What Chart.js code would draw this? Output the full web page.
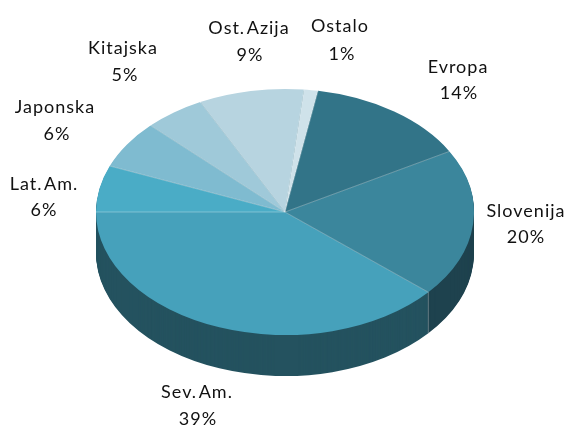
<!DOCTYPE html>
<html><head><meta charset="utf-8">
<style>html,body{margin:0;padding:0;background:#fff}#w{width:571px;height:426px;position:relative}</style>
<script src="https://cdn.jsdelivr.net/npm/chart.js@4"></script>
</head><body><div id="w"><canvas id="c"></canvas></div>
<script>
const categories = ['Lat. Am.','Japonska','Kitajska','Ost. Azija','Ostalo','Evropa','Slovenija','Sev. Am.'];
const values = [6.1,6.3,5.2,9.0,1.2,14.0,19.5,38.7];
const topColors = ['#4aacc6','#7fbbd0','#9fc9d9','#b7d4e0','#cfe2ea','#327488','#3b869c','#46a1bb'];
const sideColors = ['#2a6a7c','#2a6a7c','#2a6a7c','#2a6a7c','#2a6a7c','#1f4a57','#1e424e','#24525f'];
const nameAnchors = [[44,184],[55,107],[123,48],[249,28],[340,26],[458,67],[526,211],[197,392]];
const pctAnchors = [[44,210],[57,134],[125,75],[250,55],[342,54],[459,93],[526,237],[198,419]];
const squash = 0.651, depth = 41, cxT = 285, cyT = 212;

function placeTransform(ctx, a){
  ctx.translate(cxT, cyT); ctx.scale(1, squash); ctx.translate(-a.x, -a.y);
}
const pie3d = {
  id:'pie3d',
  beforeDatasetDraw(chart){
    const ctx = chart.ctx, arcs = chart.getDatasetMeta(0).data;
    for(let d = depth; d >= 1; d--){
      ctx.save(); ctx.translate(0, d); placeTransform(ctx, arcs[0]);
      arcs.forEach((a,i)=>{
        const saved = a.options;
        a.options = Object.assign({}, saved, {backgroundColor:sideColors[i], borderColor:sideColors[i], borderWidth:0});
        a.draw(ctx);
        a.options = saved;
      });
      ctx.restore();
    }
    ctx.save(); placeTransform(ctx, arcs[0]);
  },
  afterDatasetDraw(chart){
    const ctx = chart.ctx, arcs = chart.getDatasetMeta(0).data;
    ctx.restore();
    const r = arcs[0].outerRadius;
    ctx.save();
    ctx.lineWidth = 1; ctx.strokeStyle = 'rgba(255,255,255,0.3)';
    arcs.forEach(a=>{
      const x = cxT + r*Math.cos(a.startAngle), y = cyT + r*squash*Math.sin(a.startAngle);
      ctx.beginPath(); ctx.moveTo(cxT,cyT); ctx.lineTo(x,y); ctx.stroke();
    });
    const seam = arcs[arcs.length-1];
    const sx = cxT + r*Math.cos(seam.startAngle), sy = cyT + r*squash*Math.sin(seam.startAngle);
    ctx.beginPath(); ctx.moveTo(sx,sy); ctx.lineTo(sx,sy+depth); ctx.stroke();
    ctx.restore();
  },
  afterDraw(chart){
    const ctx = chart.ctx;
    ctx.save();
    ctx.fillStyle = '#111';
    ctx.font = '18px Lato, "Open Sans", sans-serif';
    ctx.textAlign = 'center'; ctx.textBaseline = 'middle';
    ctx.letterSpacing = '1px';
    ctx.wordSpacing = '-4px';
    categories.forEach((n,i)=>{
      ctx.fillText(n, nameAnchors[i][0], nameAnchors[i][1]);
      ctx.fillText(Math.round(values[i])+'%', pctAnchors[i][0], pctAnchors[i][1]);
    });
    ctx.restore();
  }
};
new Chart(document.getElementById('c'),{
  type:'pie',
  data:{labels:categories,datasets:[{data:values,backgroundColor:topColors,borderWidth:0}]},
  options:{
    responsive:true,maintainAspectRatio:false,animation:false,
    rotation:270,radius:189,
    layout:{padding:0},
    plugins:{legend:{display:false},tooltip:{enabled:false}}
  },
  plugins:[pie3d]
});
</script></body></html>
